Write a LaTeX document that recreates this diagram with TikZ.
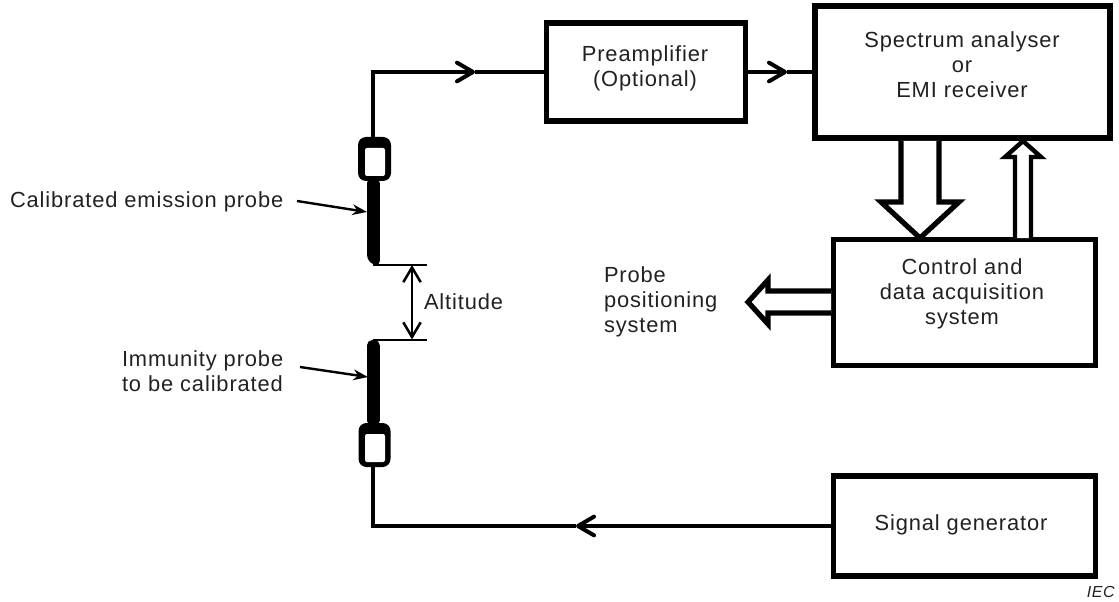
\documentclass[tikz,border=0pt]{standalone}
\usepackage{fontspec}
\setmainfont[LetterSpace=4]{Liberation Sans}
\usetikzlibrary{arrows.meta,calc}
\definecolor{ink}{gray}{0.13}
\tikzset{
  x=0.75pt,y=-0.75pt,
  lbl/.style={font=\fontsize{16.4}{18.75}\selectfont,text=ink,inner sep=0pt,outer sep=0pt},
  blockbox/.style={draw=black,line width=3.9pt,fill=white,outer sep=0pt,inner sep=0pt},
  wire/.style={draw=black,line width=3pt,line join=miter},
  vtip/.style={-{Straight Barb[length=12pt,width=14pt,line width=3pt,round]}},
  thinline/.style={draw=black,line width=1.5pt},
  leader/.style={draw=black,line width=1.8pt,-{Stealth[length=11pt,width=8pt]}},
  hollow/.style={draw=black,line width=3.9pt,fill=white,line join=miter,miter limit=3},
  hollowthin/.style={draw=black,line width=3.3pt,fill=white,line join=miter,miter limit=3},
  cyl/.style={fill=black,rounded corners=6pt,inner sep=0pt,outer sep=0pt},
  rod/.style={fill=black},
}
\begin{document}
\begin{tikzpicture}
\useasboundingbox (0,0) rectangle (1119,602);
% blocks
\node[blockbox,minimum width=149.5pt,minimum height=73.5pt] (pre) at (646,72) {};
\node[blockbox,line width=4.4pt,minimum width=221pt,minimum height=99pt] (spec) at (962.5,72) {};
\node[blockbox,minimum width=197pt,minimum height=94pt] (ctrl) at (964.5,302.5) {};
\node[blockbox,minimum width=197pt,minimum height=75pt] (sig) at (964.5,526) {};
% block text
\node[lbl,align=center] (pretxt) at (645,68.5) {Preamplifier\\(Optional)};
\node[lbl,align=center] (spectxt) at (962,64.5) {Spectrum analyser\\or\\EMI receiver};
\node[lbl,align=center] (ctrltxt) at (962,294) {Control and\\data acquisition\\system};
\node[lbl] (sigtxt) at (961,525) {Signal generator};
% probes
\node[cyl,minimum width=24.75pt,minimum height=33pt] (probeA) at (374.5,159) {};
\fill[white,rounded corners=1.5pt] (365,148) rectangle (385,176);
\node[cyl,minimum width=24pt,minimum height=33pt] (probeB) at (374.5,445) {};
\fill[white,rounded corners=1.5pt] (365,434) rectangle (385,462);
\fill[rod,rounded corners=3pt] (367,179) -- (379.8,179) -- (379.8,265) -- (373,265) -- (367,259) -- cycle;
\fill[rod,rounded corners=4pt] (367,426) -- (367,340) -- (379.8,340) -- (379.8,426) -- cycle;
% wires
\coordinate (ca) at (373,72);
\coordinate (ta) at (475,72);
\coordinate (tb) at (787,72);
\coordinate (cb) at (373,526);
\coordinate (tc) at (576,526);
\draw[wire] (ta) -- (pre.west);
\draw[wire,vtip] (probeA.north -| ca) -- (ca) -- (ta);
\draw[wire] (tb) -- (spec.west);
\draw[wire,vtip] (pre.east) -- (tb);
\draw[wire,vtip] (sig.west) -- (tc);
\draw[wire] (tc) -- (cb) -- (probeB.south -| cb);
% altitude
\coordinate (alta) at (373,265);
\coordinate (altb) at (373,339.5);
\coordinate (altae) at (427,265);
\coordinate (altbe) at (427,339.5);
\draw[thinline] (alta) -- (altae);
\draw[thinline] (altb) -- (altbe);
\coordinate (aa) at (412,265);
\coordinate (ab) at (412,339.5);
\draw[draw=black,line width=1.9pt,{Straight Barb[length=11pt,width=13pt,line width=1.9pt]}-{Straight Barb[length=11pt,width=13pt,line width=1.9pt]}] (aa) -- (ab);
\node[lbl,anchor=west] (alt) at (424,302) {Altitude};
% labels and leaders
\node[lbl,anchor=west] (cal) at (10,202) {Calibrated emission probe};
\node[lbl,anchor=west,align=left] (imm) at (122,371) {Immunity probe\\to be calibrated};
\node[lbl,anchor=west,align=left] (pos) at (604,301.5) {Probe\\positioning\\system};
\coordinate (la) at (367,212);
\coordinate (lb) at (368,377);
\coordinate (lc) at (297,201);
\coordinate (ld) at (300,367);
\draw[leader] (lc) -- (la);
\draw[leader] (ld) -- (lb);
\node[anchor=east,inner sep=0pt,font=\fontsize{12}{14}\selectfont\itshape,text=ink] (iec) at (1115,592) {IEC};
% hollow arrows
\draw[hollow] (901,141) -- (901,202) -- (881,202) -- (920,238) -- (959,202) -- (939,202) -- (939,141);
\draw[hollowthin] (1015,238) -- (1015,157) -- (1005,157) -- (1023,141) -- (1041,157) -- (1031,157) -- (1031,238);
\draw[hollow] (831,291) -- (768,291) -- (768,280) -- (748,302) -- (768,324) -- (768,313) -- (831,313);
\end{tikzpicture}
\end{document}
